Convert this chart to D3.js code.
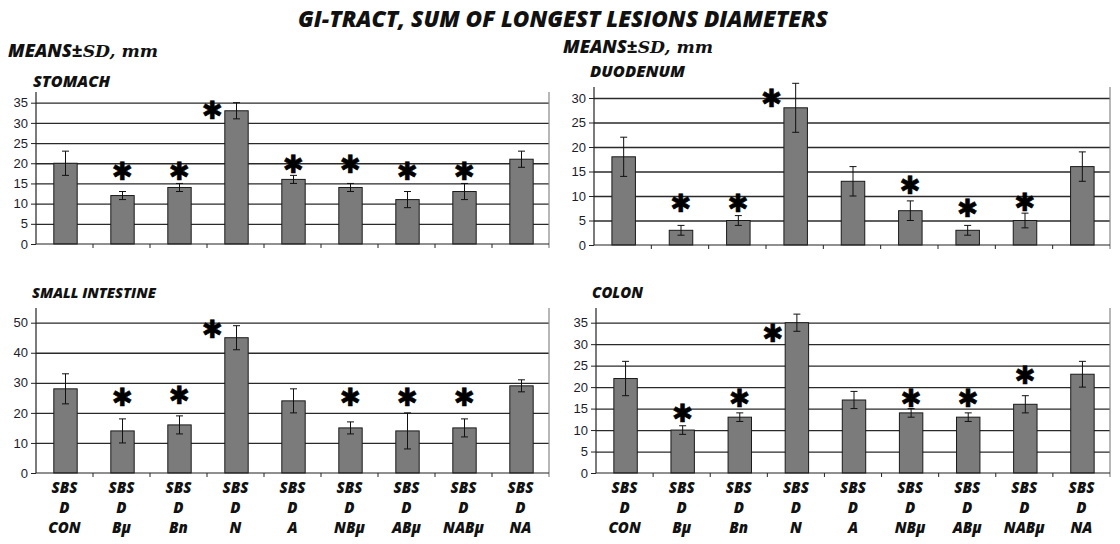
<!DOCTYPE html>
<html><head><meta charset="utf-8">
<script src="https://cdn.jsdelivr.net/npm/d3@7"></script>
<style>body{margin:0;background:#fff} svg{display:block}</style>
</head><body><svg id="c" width="1120" height="544"></svg>
<script>
const categories = ["CON","Bμ","Bn","N","A","NBμ","ABμ","NABμ","NA"];
const labelLine1 = "SBS";
const labelLine2 = "D";

const stomachMean = [20,12,14,33,16,14,11,13,21];
const stomachSD   = [3,1,1,2,1,1,2,2,2];
const stomachStar = [null,18,18,33.3,19.7,19.7,18,18,null];
const stomachTicks = [0,5,10,15,20,25,30,35];

const duodenumMean = [18,3,5,28,13,7,3,5,16];
const duodenumSD   = [4,1,1,5,3,2,1,1.5,3];
const duodenumStar = [null,8.5,8.5,30,null,12.2,7.5,8.8,null];
const duodenumTicks = [0,5,10,15,20,25,30];

const smallMean = [28,14,16,45,24,15,14,15,29];
const smallSD   = [5,4,3,4,4,2,6,3,2];
const smallStar = [null,25.4,26,48,null,25.4,25.4,25.4,null];
const smallTicks = [0,10,20,30,40,50];

const colonMean = [22,10,13,35,17,14,13,16,23];
const colonSD   = [4,1,1,2,2,1,1,2,3];
const colonStar = [null,14,17.4,32.6,null,17.4,17.4,22.9,null];
const colonTicks = [0,5,10,15,20,25,30,35];

const mainTitle = "GI-TRACT, SUM OF LONGEST LESIONS DIAMETERS";
const panelTitles = ["STOMACH","DUODENUM","SMALL INTESTINE","COLON"];

const svg = d3.select("#c");
const boldIt = "'Open Sans', Lato, sans-serif";

function heavy(sel, size){
  return sel.style("font-family",boldIt).style("font-weight",800).style("font-style","italic")
    .style("font-size",size+"px").attr("fill","#111");
}
function fit(sel, w){
  const n = sel.node(); const cur = n.getComputedTextLength();
  const fs = parseFloat(n.style.fontSize);
  sel.style("font-size",(fs*w/cur)+"px");
}

const tt = heavy(svg.append("text").attr("x",563).attr("y",27).attr("text-anchor","middle"),20).text(mainTitle);
fit(tt, 530);

function means(x,y){
  const t = svg.append("text").attr("x",x).attr("y",y).attr("fill","#111");
  const a = heavy(t.append("tspan"),17).text("MEANS±");
  const b = t.append("tspan").style("font-family","'DejaVu Serif', serif").style("font-weight","bold").style("font-style","italic")
    .style("font-size","16px").text("SD, mm");
  const k = 150 / t.node().getComputedTextLength();
  a.style("font-size",(17*k)+"px");
  b.style("font-size",(16*k)+"px");
}
means(8,57);
means(563,53);

const panels = [
  {title:panelTitles[0], mean:stomachMean, sd:stomachSD, star:stomachStar, ticks:stomachTicks,
   left:36, right:549, y0:244, yTopTick:102.7, top:92, tx:33, ty:87, tw:77, xlabels:false},
  {title:panelTitles[1], mean:duodenumMean, sd:duodenumSD, star:duodenumStar, ticks:duodenumTicks,
   left:594, right:1110, y0:245, yTopTick:98, top:87, tx:590, ty:77, tw:95, xlabels:false},
  {title:panelTitles[2], mean:smallMean, sd:smallSD, star:smallStar, ticks:smallTicks,
   left:36, right:549, y0:473, yTopTick:322.7, top:308, tx:32, ty:298, tw:124, xlabels:true},
  {title:panelTitles[3], mean:colonMean, sd:colonSD, star:colonStar, ticks:colonTicks,
   left:596, right:1110, y0:473, yTopTick:322.7, top:308, tx:592, ty:298, tw:51, xlabels:true}
];

panels.forEach(p => {
  const g = svg.append("g");
  const y = d3.scaleLinear().domain([0, p.ticks[p.ticks.length-1]]).range([p.y0, p.yTopTick]);
  const x = d3.scaleBand().domain(categories).range([p.left, p.right]).padding(0);
  const bw = x.bandwidth()*0.41;

  const ti = heavy(g.append("text").attr("x",p.tx).attr("y",p.ty),14).text(p.title);
  fit(ti, p.tw);

  // gridlines
  g.append("g").attr("transform",`translate(${p.left},0)`)
    .call(d3.axisLeft(y).tickValues(p.ticks.slice(1)).tickSize(-(p.right-p.left)).tickFormat(""))
    .call(s=>s.select(".domain").remove())
    .call(s=>s.selectAll("line").attr("stroke","#2a2a2a").attr("stroke-width",1.3));

  // right frame line
  g.append("line").attr("x1",p.right).attr("x2",p.right).attr("y1",p.top).attr("y2",p.y0+4)
    .attr("stroke","#888").attr("stroke-width",1.2);

  // bars
  g.selectAll("rect.bar").data(categories).join("rect")
    .attr("x",c=>x(c)+x.bandwidth()/2-bw/2+1)
    .attr("width",bw)
    .attr("y",(c,i)=>y(p.mean[i]))
    .attr("height",(c,i)=>p.y0-y(p.mean[i]))
    .attr("fill","#7b7b7b").attr("stroke","#1a1a1a").attr("stroke-width",1);

  // error bars
  categories.forEach((c,i)=>{
    const cx = x(c)+x.bandwidth()/2+1;
    const lo = y(p.mean[i]-p.sd[i]), hi = y(p.mean[i]+p.sd[i]);
    g.append("line").attr("x1",cx).attr("x2",cx).attr("y1",lo).attr("y2",hi).attr("stroke","#111").attr("stroke-width",1);
    [lo,hi].forEach(v=>g.append("line").attr("x1",cx-3.5).attr("x2",cx+3.5).attr("y1",v).attr("y2",v).attr("stroke","#111").attr("stroke-width",1));
    if (p.star[i] != null) {
      const dx = (c==="N") ? -24 : 0;
      g.append("text").attr("x",cx+dx).attr("y",y(p.star[i])).attr("dy","0.36em")
        .attr("text-anchor","middle").style("font-family","'DejaVu Sans', sans-serif")
        .style("font-size","25px").style("font-weight","bold").attr("fill","#000")
        .attr("stroke","#000").attr("stroke-width",0.6).text("✱");
    }
  });

  // y axis
  g.append("g").attr("transform",`translate(${p.left},0)`)
    .call(d3.axisLeft(y).tickValues(p.ticks).tickSize(5).tickPadding(3))
    .call(s=>s.select(".domain").remove())
    .call(s=>s.selectAll("line").attr("stroke","#222"))
    .call(s=>s.selectAll("text").attr("fill","#1c1c2c").style("font-family","'Liberation Sans', Arial, sans-serif").style("font-size","13px"));
  g.append("line").attr("x1",p.left).attr("x2",p.left).attr("y1",p.top).attr("y2",p.y0)
    .attr("stroke","#222").attr("stroke-width",1.2);

  // x axis
  g.append("line").attr("x1",p.left).attr("x2",p.right).attr("y1",p.y0).attr("y2",p.y0)
    .attr("stroke","#222").attr("stroke-width",1.2);
  categories.slice(1).forEach(c=>{
    g.append("line").attr("x1",x(c)).attr("x2",x(c)).attr("y1",p.y0).attr("y2",p.y0+4).attr("stroke","#222");
  });

  if (p.xlabels) {
    categories.forEach(c=>{
      const cx = x(c)+x.bandwidth()/2;
      const t = heavy(g.append("text").attr("text-anchor","middle"),15);
      [labelLine1,labelLine2,c].forEach((s,k)=>t.append("tspan").attr("x",cx).attr("y",p.y0+20+k*20).text(s));
    });
  }
});
</script></body></html>
